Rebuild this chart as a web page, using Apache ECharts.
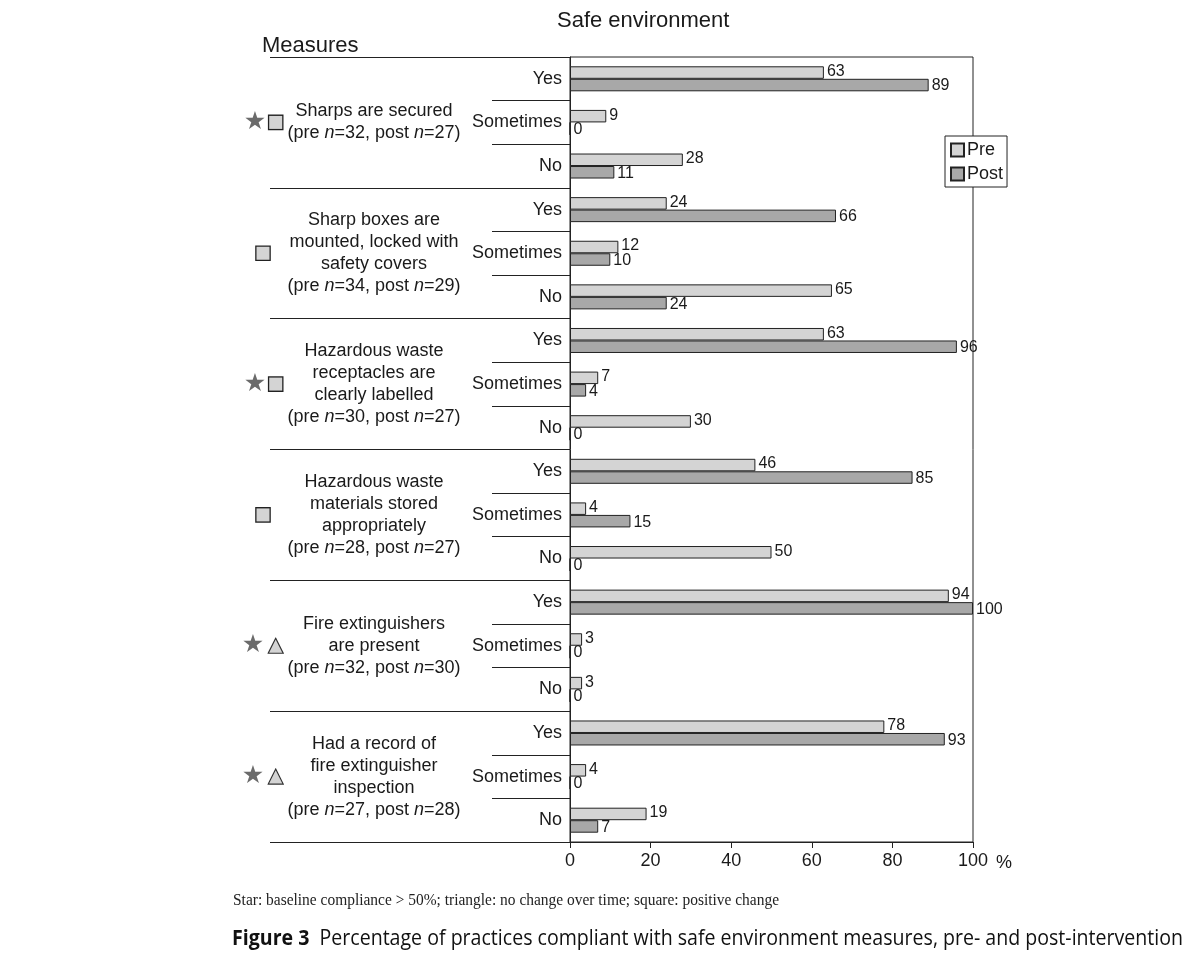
<!DOCTYPE html>
<html>
<head>
<meta charset="utf-8">
<script src="https://cdn.jsdelivr.net/npm/echarts@6/dist/echarts.min.js"></script>
<style>html,body{margin:0;padding:0;background:#fff;}#main{width:1195px;height:965px;}</style>
</head>
<body>
<div id="main"></div>
<script>
// ---- data ----
const responses = ['Yes','Sometimes','No'];
const measures = [
  'Sharps are secured',
  'Sharp boxes are\nmounted, locked with\nsafety covers',
  'Hazardous waste\nreceptacles are\nclearly labelled',
  'Hazardous waste\nmaterials stored\nappropriately',
  'Fire extinguishers\nare present',
  'Had a record of\nfire extinguisher\ninspection'
];
const nPre  = [32, 34, 30, 28, 32, 27];
const nPost = [27, 29, 27, 27, 30, 28];
const markers = [['star','sq'],['sq'],['star','sq'],['sq'],['star','tri'],['star','tri']];
const preValues  = [63, 9, 28, 24, 12, 65, 63, 7, 30, 46, 4, 50, 94, 3, 3, 78, 4, 19];
const postValues = [89, 0, 11, 66, 10, 24, 96, 4, 0, 85, 15, 0, 100, 0, 0, 93, 0, 7];
const xTicks = [0, 20, 40, 60, 80, 100];

const categories = [];
measures.forEach((m, i) => responses.forEach(r => categories.push(r)));
const groupIds = measures.map((m, i) => 'g' + i);

const FONT = '"Liberation Sans", Arial, sans-serif';
const TXT = '#1a1a1a';
const PRE_C = '#d4d4d4', POST_C = '#a8a8a8';

const triSvg = 'data:image/svg+xml;charset=utf-8,' + encodeURIComponent(
  '<svg xmlns="http://www.w3.org/2000/svg" width="17" height="17"><polygon points="8.5,1 16,16 1,16" fill="#d4d4d4" stroke="#333" stroke-width="1.2"/></svg>');

function measureWidth(parts) {
  const c = document.createElement('canvas').getContext('2d');
  let w = 0;
  parts.forEach(p => { c.font = p[0]; w += c.measureText(p[1]).width; });
  return w;
}
const footText = 'Star: baseline compliance > 50%; triangle: no change over time; square: positive change';
const footFont = '"Liberation Serif", "Times New Roman", serif';
const footScale = 546 / measureWidth([['16px ' + footFont, footText]]);
const capBold = 'Figure 3';
const capRest = '  Percentage of practices compliant with safe environment measures, pre- and post-intervention';
const capFont = '"Open Sans", sans-serif';
const capScale = 951 / measureWidth([['bold 22px ' + capFont, capBold], ['22px ' + capFont, capRest]]);

const markerText = { star: '★', sq: ' ', tri: ' ' };

const chart = echarts.init(document.getElementById('main'));
chart.setOption({
  animation: false,
  textStyle: { fontFamily: FONT, color: TXT },
  title: [
    { text: 'Safe environment', left: 552, top: 5, textStyle: { fontFamily: FONT, fontSize: 22, fontWeight: 'normal', color: TXT } },
    { text: 'Measures', left: 257, top: 30, textStyle: { fontFamily: FONT, fontSize: 22, fontWeight: 'normal', color: TXT } }
  ],
  legend: {
    orient: 'vertical', left: 945, top: 136,
    backgroundColor: '#fff', borderColor: '#222', borderWidth: 1,
    padding: [5, 4, 4, 5], itemGap: 6, itemWidth: 13, itemHeight: 13, icon: 'rect',
    textStyle: { fontFamily: FONT, fontSize: 18, color: TXT, padding: [0, 0, 0, -2] },
    data: ['Pre', 'Post']
  },
  grid: { left: 570, right: 222, top: 57, bottom: 123, show: true, borderColor: '#222', borderWidth: 1, backgroundColor: 'transparent' },
  xAxis: {
    type: 'value', min: 0, max: 100, interval: 20,
    axisLine: { show: true, lineStyle: { color: '#222' } },
    axisTick: { show: true, length: 6, lineStyle: { color: '#222' } },
    splitLine: { show: false },
    axisLabel: { fontFamily: FONT, fontSize: 18, color: TXT, margin: 10, formatter: v => xTicks.includes(v) ? String(v) : '' },
    name: '%', nameLocation: 'end', nameGap: 23,
    nameTextStyle: { fontFamily: FONT, fontSize: 18, color: TXT, verticalAlign: 'top', padding: [12, 0, 0, 0] }
  },
  yAxis: [
    {
      type: 'category', inverse: true, data: categories, position: 'left',
      axisLine: { show: true, lineStyle: { color: '#222' } },
      axisTick: { show: true, length: 78, interval: 0, lineStyle: { color: '#222' } },
      axisLabel: { fontFamily: FONT, fontSize: 18, color: TXT, margin: 8, interval: 0 }
    },
    {
      type: 'category', inverse: true, data: groupIds, position: 'left',
      axisLine: { show: false },
      axisTick: { show: true, length: 300, interval: 0, lineStyle: { color: '#222' } },
      axisLabel: {
        interval: 0, margin: 196, align: 'center', fontFamily: FONT, fontSize: 18, color: TXT, lineHeight: 22,
        formatter: (v, i) => measures[i] + '\n(pre {i|n}=' + nPre[i] + ', post {i|n}=' + nPost[i] + ')',
        rich: { i: { fontStyle: 'italic', fontFamily: FONT, fontSize: 18, color: TXT, lineHeight: 22 } }
      }
    },
    {
      type: 'category', inverse: true, data: groupIds, position: 'left',
      axisLine: { show: false }, axisTick: { show: false },
      axisLabel: {
        interval: 0, margin: 307, align: 'center',
        formatter: (v, i) => markers[i].map(m => '{' + m + '|' + markerText[m] + '}').join('{gap| }'),
        rich: {
          star: { fontSize: 25, color: '#6b6b6b', fontFamily: '"DejaVu Sans", sans-serif', lineHeight: 24 },
          gap: { width: 3, fontSize: 6 },
          sq: { width: 13, height: 13, backgroundColor: PRE_C, borderColor: '#222', borderWidth: 1.3 },
          tri: { width: 17, height: 17, backgroundColor: { image: triSvg } }
        }
      }
    }
  ],
  series: [
    {
      name: 'Pre', type: 'bar', yAxisIndex: 0, data: preValues, barWidth: 12.5, barGap: '0%',
      itemStyle: { color: PRE_C, borderColor: '#222', borderWidth: 1 },
      label: { show: true, position: 'right', distance: 3, fontFamily: FONT, fontSize: 16, color: TXT, offset: [0, -1] }
    },
    {
      name: 'Post', type: 'bar', yAxisIndex: 0, data: postValues, barWidth: 12.5, barGap: '0%',
      itemStyle: { color: POST_C, borderColor: '#222', borderWidth: 1 },
      label: { show: true, position: 'right', distance: 3, fontFamily: FONT, fontSize: 16, color: TXT, offset: [0, 1] }
    }
  ],
  graphic: [
    { type: 'text', x: 233, y: 893, scaleX: footScale, style: { text: footText, font: '16px ' + footFont, fill: '#222' } },
    { type: 'text', x: 232, y: 928, scaleX: capScale, style: {
        text: '{b|' + capBold + '}' + capRest, fontFamily: capFont, fontSize: 22, fill: '#111',
        rich: { b: { fontWeight: 'bold', fontFamily: capFont, fontSize: 22, fill: '#111' } } } }
  ]
});
</script>
</body>
</html>
